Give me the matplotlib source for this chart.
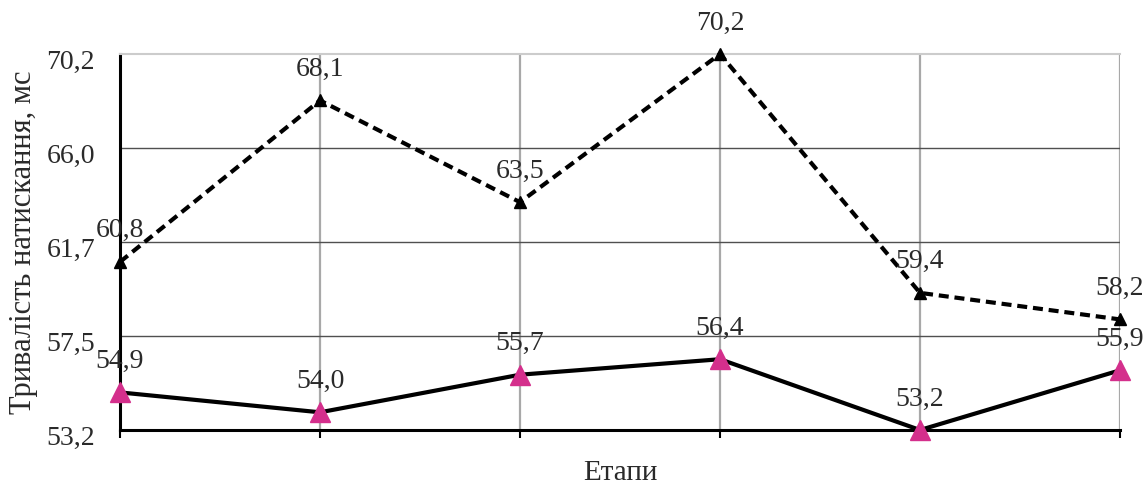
import matplotlib.pyplot as plt
from matplotlib.transforms import ScaledTranslation

# Тривалість натискання по етапах
stages = [1, 2, 3, 4, 5, 6]
series_dashed = [60.8, 68.1, 63.5, 70.2, 59.4, 58.2]
series_solid = [54.9, 54.0, 55.7, 56.4, 53.2, 55.9]
y_ticks = [53.2, 57.45, 61.7, 65.95, 70.2]
y_tick_labels = ['53,2', '57,5', '61,7', '66,0', '70,2']

plt.rcParams['font.family'] = ['Liberation Serif', 'DejaVu Serif']
plt.rcParams['font.size'] = 20

fig = plt.figure(figsize=(11.47, 4.86), dpi=100)
ax = fig.add_axes([120 / 1147, 1 - 430 / 486, 1000 / 1147, 376 / 486])

# grid
for x in stages:
    ax.axvline(x, color='#a8a8a8', lw=1.6, zorder=1)
for y in y_ticks[1:-1]:
    ax.axhline(y, color='#505050', lw=1.0, zorder=1)

ax.plot(stages, series_dashed, color='black', lw=3, dashes=(2.4, 1.4),
        marker='^', markersize=9, markerfacecolor='black',
        markeredgecolor='black', zorder=3, clip_on=False)
ax.plot(stages, series_solid, color='black', lw=3,
        marker='^', markersize=15, markerfacecolor='#d42f8c',
        markeredgecolor='#d42f8c', zorder=4, clip_on=False)

def fmt(v):
    return f'{v:.1f}'.replace('.', ',')

for xs, ys in [(stages, series_dashed), (stages, series_solid)]:
    for x, y in zip(xs, ys):
        ax.annotate(fmt(y), (x, y), xytext=(0, 31), textcoords='offset pixels',
                    ha='center', va='center', color='#2a2a2a', zorder=5)

ax.set_xlim(stages[0], stages[-1])
ax.set_ylim(y_ticks[0], y_ticks[-1])
ax.set_yticks(y_ticks)
ax.set_yticklabels(y_tick_labels, color='#2a2a2a')
ax.set_xticks(stages)
ax.set_xticklabels([])
ax.tick_params(axis='y', length=0, pad=18)
ax.tick_params(axis='x', length=6, width=1.5, direction='out', color='black')

# shift y tick labels slightly down
shift = ScaledTranslation(0, -5 / 100, fig.dpi_scale_trans)
for lbl in ax.get_yticklabels():
    lbl.set_transform(lbl.get_transform() + shift)

ax.spines['left'].set_linewidth(2.2)
ax.spines['bottom'].set_linewidth(2.2)
ax.spines['right'].set_visible(False)
ax.spines['top'].set_color('#cccccc')
ax.spines['top'].set_linewidth(1.5)

ax.set_xlabel('Етапи', labelpad=12, color='#2a2a2a', fontsize=21)
ax.set_ylabel('Тривалість натискання, мс', labelpad=6, color='#2a2a2a',
              fontsize=22)

fig.savefig('out.png', dpi=100)
